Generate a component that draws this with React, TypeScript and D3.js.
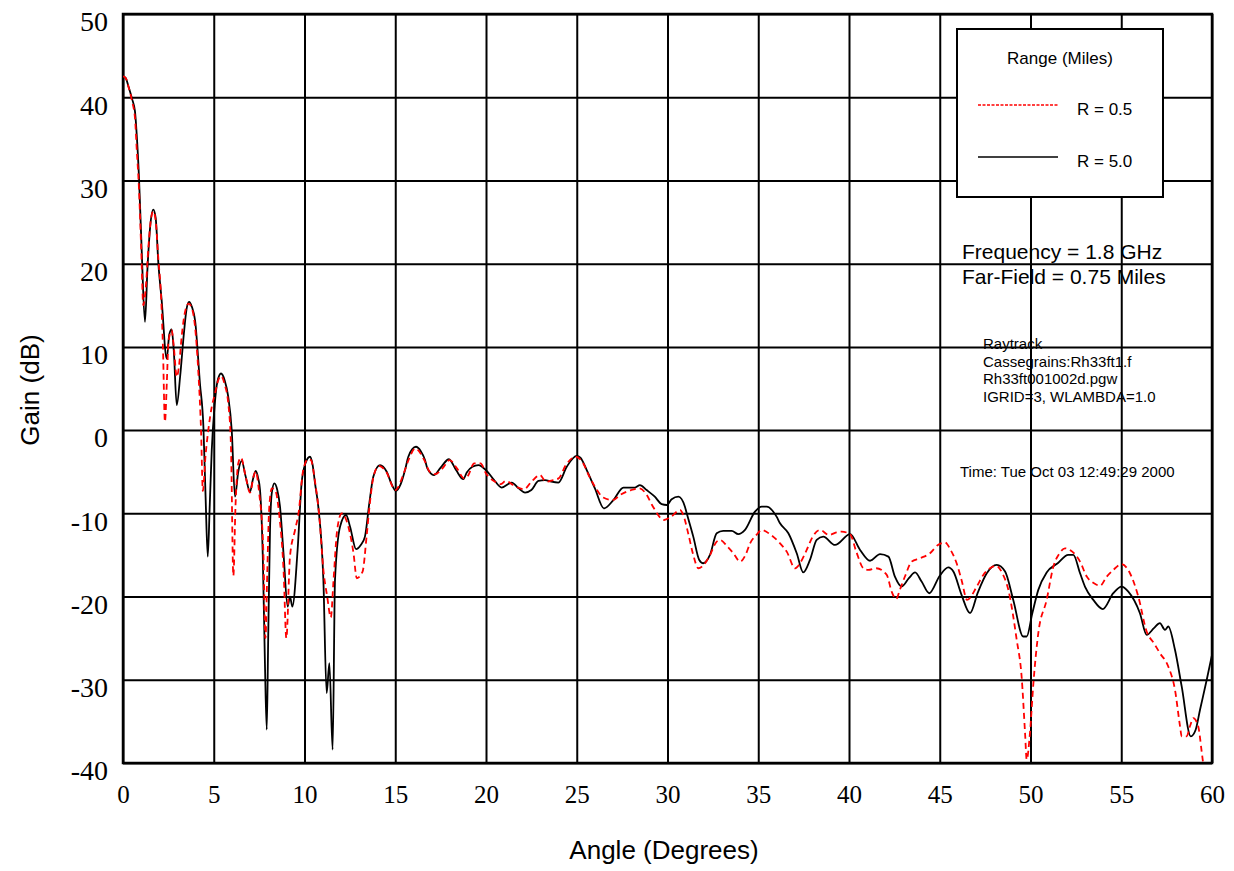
import React, { useEffect, useRef } from 'react';
import * as d3 from 'd3';

// angle (deg) and gain (dB)
const angleR50 = [0, 0.15, 0.3, 0.5, 0.66, 0.75, 0.88, 1.03, 1.21, 1.35, 1.5, 1.67, 1.8, 1.95, 2.13, 2.41, 2.55, 2.68, 2.8, 2.96, 3.15, 3.35, 3.5, 3.64, 3.8, 3.97, 4.24, 4.43, 4.55, 4.67, 4.78, 4.89, 5.05, 5.2, 5.4, 5.6, 5.8, 5.99, 6.17, 6.35, 6.54, 6.75, 7.0, 7.15, 7.31, 7.45, 7.55, 7.7, 7.82, 7.92, 8.0, 8.1, 8.2, 8.34, 8.5, 8.65, 8.85, 9.07, 9.2, 9.33, 9.62, 9.84, 10.05, 10.3, 10.45, 10.58, 10.76, 11.04, 11.22, 11.37, 11.55, 11.68, 11.96, 12.29, 12.51, 12.84, 13.1, 13.33, 13.57, 13.79, 14.16, 14.53, 14.8, 15.04, 15.3, 15.54, 15.72, 16.14, 16.4, 16.64, 16.77, 17.13, 17.5, 17.96, 18.35, 18.75, 18.94, 19.25, 19.58, 20.04, 20.45, 20.86, 21.42, 21.8, 22.15, 22.5, 22.89, 23.25, 23.6, 23.99, 24.45, 25.0, 25.2, 25.55, 26.0, 26.5, 27.02, 27.57, 28.21, 28.48, 28.85, 29.3, 29.68, 29.96, 30.23, 30.6, 30.96, 31.06, 31.42, 31.75, 31.97, 32.34, 32.71, 33.07, 33.54, 33.9, 34.27, 34.82, 35.19, 35.46, 36.01, 36.2, 36.66, 37.12, 37.48, 37.85, 38.22, 38.58, 39.23, 40.06, 40.61, 41.16, 41.71, 42.17, 42.53, 42.9, 43.3, 43.64, 44.0, 44.42, 45.0, 45.47, 45.75, 46.2, 46.67, 47.1, 47.59, 48.14, 48.6, 49.05, 49.6, 49.79, 50.1, 50.43, 50.89, 51.5, 52.08, 52.36, 52.73, 53.0, 53.46, 53.98, 54.56, 55.02, 55.39, 56.03, 56.4, 56.8, 57.13, 57.41, 57.59, 57.96, 58.33, 58.83, 59.1, 59.34, 59.71, 60.0];
const gainR50 = [42.5, 42.3, 41.3, 39.8, 38.3, 35.7, 30.4, 21.6, 13.0, 19.5, 24.5, 26.5, 25.5, 20.0, 15.6, 8.6, 11.5, 12.1, 9.5, 3.0, 6.5, 11.5, 14.5, 15.4, 14.8, 13.2, 5.6, 0.4, -8, -15.2, -9, -2.4, 3.0, 5.8, 6.8, 6.0, 4.0, 0, -8.0, -5.0, -3.7, -5.5, -7.4, -6, -4.9, -5.8, -7.2, -15, -28, -36.0, -25, -12, -7.5, -6.4, -7.2, -9.2, -15, -21.2, -20.0, -21.2, -14.4, -6.4, -4.0, -3.2, -4.2, -6.4, -9.2, -18.0, -31.6, -28.0, -38.4, -18.0, -11.6, -10.2, -11.6, -14.3, -13.8, -12.8, -8.8, -5.6, -4.2, -5.0, -6.5, -7.3, -6.5, -4.8, -3.2, -2.0, -2.5, -3.6, -4.6, -5.4, -4.5, -3.5, -4.8, -5.9, -5.1, -4.4, -4.2, -4.9, -6.0, -6.9, -6.3, -7.0, -7.5, -7.2, -6.1, -6.0, -6.2, -6.3, -4.4, -3.1, -3.3, -4.8, -7.0, -9.4, -8.4, -6.9, -6.9, -6.6, -7.2, -8.0, -8.9, -9.0, -8.3, -8.0, -9.2, -10.0, -12.8, -15.6, -16.0, -15.0, -12.4, -12.1, -12.1, -12.5, -12.0, -9.8, -9.2, -9.2, -10.4, -11.2, -12.4, -14.8, -17.1, -15.6, -13.2, -12.8, -13.8, -12.5, -14.4, -15.7, -14.9, -15.2, -17.6, -18.8, -17.8, -17.1, -18.2, -19.6, -17.5, -16.5, -17.0, -19.8, -22.0, -19.5, -17.2, -16.2, -17.0, -20.4, -24.8, -24.8, -22.0, -19.2, -17.1, -16.0, -15.0, -15.0, -17.2, -18.8, -20.4, -21.5, -19.6, -18.8, -19.4, -22.0, -24.6, -23.8, -23.2, -24.0, -23.6, -26.4, -30.8, -36.8, -36.0, -33.6, -30.0, -27.0];

const angleR05 = [0, 0.15, 0.3, 0.5, 0.66, 0.75, 0.88, 1.0, 1.12, 1.25, 1.4, 1.55, 1.67, 1.8, 1.95, 2.1, 2.2, 2.31, 2.42, 2.5, 2.68, 2.8, 2.96, 3.1, 3.23, 3.45, 3.62, 3.8, 3.95, 4.15, 4.3, 4.4, 4.55, 4.7, 4.89, 5.07, 5.25, 5.4, 5.6, 5.8, 5.95, 6.08, 6.2, 6.35, 6.5, 6.75, 7.0, 7.2, 7.31, 7.5, 7.73, 7.85, 7.95, 8.05, 8.2, 8.4, 8.6, 8.85, 9.0, 9.2, 9.48, 9.67, 9.93, 10.2, 10.35, 10.6, 10.8, 11.05, 11.25, 11.45, 11.6, 11.8, 12.05, 12.3, 12.7, 12.88, 13.2, 13.42, 13.6, 13.8, 14.1, 14.5, 15.0, 15.5, 15.75, 16.1, 16.6, 16.9, 17.2, 17.6, 18.0, 18.4, 18.8, 19.0, 19.35, 19.7, 20.0, 20.5, 20.8, 21.1, 21.5, 22.1, 22.5, 22.98, 23.3, 23.7, 24.0, 24.4, 24.95, 25.3, 25.7, 26.0, 26.46, 27.0, 27.38, 28.0, 28.45, 28.8, 29.2, 29.81, 30.2, 30.69, 30.87, 31.15, 31.42, 31.7, 31.9, 32.3, 32.71, 32.9, 33.3, 33.63, 34.0, 34.3, 34.55, 34.9, 35.19, 35.7, 36.2, 36.57, 37.03, 37.3, 37.67, 38.0, 38.4, 38.9, 39.3, 39.59, 40.06, 40.4, 40.79, 41.06, 41.5, 42.08, 42.35, 42.6, 42.8, 43.1, 43.45, 43.91, 44.46, 44.9, 45.29, 45.6, 45.93, 46.2, 46.51, 47.04, 47.4, 47.77, 48.1, 48.45, 48.78, 49.24, 49.51, 49.7, 49.79, 49.97, 50.16, 50.43, 50.89, 51.26, 51.6, 51.9, 52.3, 52.73, 53.1, 53.5, 53.83, 54.2, 54.56, 55.02, 55.48, 55.94, 56.4, 56.8, 57.13, 57.59, 57.96, 58.24, 58.33, 58.6, 58.8, 58.97, 59.24, 59.43, 59.5];
const gainR05 = [42.5, 42.3, 41.3, 39.5, 37.5, 34, 29, 22, 15.0, 17, 22, 25.5, 26.3, 25.2, 20.5, 16, 10, 1.0, 6, 10.5, 12, 10, 6.4, 8, 11.2, 14.5, 15.2, 14.6, 12.8, 7, 0, -7.3, -3, 0, 2.8, 4.4, 6.0, 6.5, 5.5, 3.2, -2, -17.5, -9, -4, -3.3, -5.5, -7.5, -5.5, -5.0, -7.5, -14.4, -25, -17, -9.6, -7.0, -7.3, -10, -17, -25, -15.2, -12.0, -10.0, -4.8, -3.5, -3.6, -6.5, -10, -17, -20, -22.5, -18, -12, -10, -10.8, -14.8, -17.8, -17.0, -12.8, -8.8, -5.6, -4.3, -5.0, -7.2, -5.0, -3.5, -2.2, -3.6, -5.0, -5.3, -4.6, -3.6, -4.6, -5.8, -5.5, -4.0, -4.0, -5.2, -6.2, -6.5, -6.1, -6.6, -7.1, -6.2, -5.4, -6.2, -6.0, -5.8, -4.2, -3.2, -3.8, -5.6, -6.8, -8.1, -8.4, -7.8, -7.2, -7.0, -7.6, -9.2, -10.8, -10.4, -9.6, -10.2, -12.5, -15.0, -16.6, -16.4, -15.2, -13.4, -13.2, -14.0, -14.8, -15.8, -15.0, -13.6, -12.6, -12.0, -12.6, -13.6, -14.6, -16.6, -16.0, -14.4, -12.8, -12.0, -12.6, -12.3, -12.2, -12.5, -14.6, -16.6, -16.8, -16.6, -17.4, -19.4, -20.3, -19.2, -17.5, -15.8, -15.4, -14.8, -13.8, -13.5, -14.4, -16.0, -18.0, -20.4, -18.8, -17.4, -16.6, -16.3, -17.2, -19.2, -25.2, -29.6, -36.4, -39.6, -36.4, -30.4, -24.4, -20.4, -16.4, -14.8, -14.2, -14.6, -15.8, -17.6, -18.4, -18.7, -17.6, -16.8, -16.1, -17.2, -20.0, -24.2, -25.6, -26.8, -28.4, -31.2, -35.6, -36.8, -36.8, -35.5, -34.6, -35.6, -38.6, -39.8];

const xTicks = [0, 5, 10, 15, 20, 25, 30, 35, 40, 45, 50, 55, 60];
const yTicks = [-40, -30, -20, -10, 0, 10, 20, 30, 40, 50];
const infoLines = ['Raytrack', 'Cassegrains:Rh33ft1.f', 'Rh33ft001002d.pgw', 'IGRID=3, WLAMBDA=1.0'];

const SANS = '"Liberation Sans", Arial, sans-serif';
const SERIF = '"Liberation Serif", "Times New Roman", serif';

export default function App() {
  const ref = useRef<SVGSVGElement>(null);

  useEffect(() => {
    const svg = d3.select(ref.current);
    svg.selectAll('*').remove();

    const left = 123, right = 1212, top = 14, bottom = 763;
    const x = d3.scaleLinear().domain([0, 60]).range([left, right]);
    const y = d3.scaleLinear().domain([-40, 50]).range([bottom, top]);

    // grid via axes (plain hyphen for negatives, like the original)
    const gx = svg.append('g')
      .attr('transform', 'translate(0,' + bottom + ')')
      .call(d3.axisBottom(x).tickValues(xTicks).tickSize(-(bottom - top)).tickPadding(0).tickFormat(d => String(d)));
    gx.select('.domain').remove();
    gx.selectAll('line').attr('stroke', '#000').attr('stroke-width', 2);
    gx.selectAll('text')
      .attr('y', 31).attr('dy', '0.35em')
      .attr('font-family', SERIF).attr('font-size', 25).attr('fill', '#000');

    const gy = svg.append('g')
      .attr('transform', 'translate(' + left + ',0)')
      .call(d3.axisLeft(y).tickValues(yTicks).tickSize(-(right - left)).tickPadding(15).tickFormat(d => String(d)));
    gy.select('.domain').remove();
    gy.selectAll('line').attr('stroke', '#000').attr('stroke-width', 2);
    gy.selectAll('text')
      .attr('y', 7).attr('dy', '0.35em')
      .attr('font-family', SERIF).attr('font-size', 28).attr('fill', '#000');

    svg.append('rect')
      .attr('x', left).attr('y', top)
      .attr('width', right - left).attr('height', bottom - top)
      .attr('fill', 'none').attr('stroke', '#000').attr('stroke-width', 2.5);

    // curves
    const line = d3.line<number>()
      .x(d => x(d))
      .curve(d3.curveMonotoneX);

    const clip = svg.append('clipPath').attr('id', 'plotclip');
    clip.append('rect').attr('x', left).attr('y', top).attr('width', right - left).attr('height', bottom - top);

    svg.append('path')
      .attr('clip-path', 'url(#plotclip)')
      .attr('d', line.y((d, i) => y(gainR50[i]))(angleR50))
      .attr('fill', 'none').attr('stroke', '#000').attr('stroke-width', 1.8);

    svg.append('path')
      .attr('clip-path', 'url(#plotclip)')
      .attr('d', line.y((d, i) => y(gainR05[i]))(angleR05))
      .attr('fill', 'none').attr('stroke', '#ff0000').attr('stroke-width', 1.8)
      .attr('stroke-dasharray', '6,4');

    // legend
    const lg = svg.append('g');
    lg.append('rect')
      .attr('x', 957).attr('y', 29).attr('width', 206).attr('height', 168)
      .attr('fill', '#fff').attr('stroke', '#000').attr('stroke-width', 2);
    lg.append('text')
      .attr('x', 1060).attr('y', 64).attr('text-anchor', 'middle')
      .attr('font-family', SANS).attr('font-size', 17).text('Range (Miles)');
    lg.append('line')
      .attr('x1', 978).attr('x2', 1058).attr('y1', 105).attr('y2', 105)
      .attr('stroke', '#ff0000').attr('stroke-width', 1.5).attr('stroke-dasharray', '3,1.5');
    lg.append('text')
      .attr('x', 1077).attr('y', 115)
      .attr('font-family', SANS).attr('font-size', 17).text('R = 0.5');
    lg.append('line')
      .attr('x1', 978).attr('x2', 1058).attr('y1', 157).attr('y2', 157)
      .attr('stroke', '#000').attr('stroke-width', 1.5);
    lg.append('text')
      .attr('x', 1077).attr('y', 167)
      .attr('font-family', SANS).attr('font-size', 17).text('R = 5.0');

    // annotations
    svg.append('text')
      .attr('x', 962).attr('y', 259)
      .attr('font-family', SANS).attr('font-size', 21).text('Frequency = 1.8 GHz');
    svg.append('text')
      .attr('x', 962).attr('y', 284)
      .attr('font-family', SANS).attr('font-size', 21).text('Far-Field = 0.75 Miles');

    svg.append('g').selectAll('text')
      .data(infoLines)
      .enter()
      .append('text')
      .attr('x', 983)
      .attr('y', (d, i) => 349 + i * 17.6)
      .attr('font-family', SANS).attr('font-size', 15)
      .text(d => d);

    svg.append('text')
      .attr('x', 960).attr('y', 477)
      .attr('font-family', SANS).attr('font-size', 15)
      .text('Time: Tue Oct 03 12:49:29 2000');

    // axis titles
    svg.append('text')
      .attr('x', 664).attr('y', 859).attr('text-anchor', 'middle')
      .attr('font-family', SANS).attr('font-size', 26).text('Angle (Degrees)');
    svg.append('text')
      .attr('transform', 'translate(39,390) rotate(-90)')
      .attr('text-anchor', 'middle')
      .attr('font-family', SANS).attr('font-size', 26).text('Gain (dB)');
  }, []);

  return (
    <svg ref={ref} width={1234} height={871}
      style={{ position: 'absolute', left: 0, top: 0, background: '#fff' }} />
  );
}
